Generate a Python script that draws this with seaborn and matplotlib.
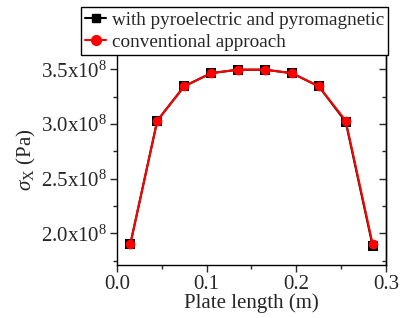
import numpy as np
import pandas as pd
import seaborn as sns
import matplotlib.pyplot as plt
from matplotlib.ticker import MultipleLocator, FuncFormatter

# plate positions (m) and stress values (Pa)
plate_length = [0.015, 0.045, 0.075, 0.105, 0.135, 0.165, 0.195, 0.225, 0.255, 0.285]
sigma_pyro = [1.90e8, 3.03e8, 3.345e8, 3.465e8, 3.497e8, 3.497e8, 3.465e8, 3.345e8, 3.02e8, 1.885e8]
sigma_conv = [1.90e8, 3.03e8, 3.345e8, 3.465e8, 3.497e8, 3.497e8, 3.465e8, 3.345e8, 3.03e8, 1.90e8]
labels = ['with pyroelectric and pyromagnetic', 'conventional approach']

sns.set_style('ticks')
plt.rcParams['font.family'] = ['Liberation Serif', 'DejaVu Serif']
plt.rcParams['mathtext.fontset'] = 'custom'
plt.rcParams['mathtext.rm'] = 'Liberation Serif'
plt.rcParams['mathtext.it'] = 'Liberation Serif:italic'

df = pd.DataFrame({'x': plate_length * 2,
                   'y': sigma_pyro + sigma_conv,
                   'series': [labels[0]] * len(plate_length) + [labels[1]] * len(plate_length)})

fig = plt.figure(figsize=(4.03, 3.18), dpi=100)
ax = fig.add_axes([0.290, 0.167, 0.668, 0.663])

sns.lineplot(data=df, x='x', y='y', hue='series', style='series',
             palette=['black', 'red'], markers=['s', 'o'], dashes=False,
             markersize=7, markeredgewidth=0, linewidth=1.5, ax=ax, legend=False)

ax.set_xlim(0, 0.3)
ax.set_ylim(1.71e8, 3.64e8)
ax.xaxis.set_major_locator(MultipleLocator(0.1))
ax.xaxis.set_minor_locator(MultipleLocator(0.05))
ax.yaxis.set_major_locator(MultipleLocator(0.5e8))
ax.yaxis.set_minor_locator(MultipleLocator(0.25e8))
ax.xaxis.set_major_formatter(FuncFormatter(lambda v, p: f'{v:.1f}'))
ax.yaxis.set_major_formatter(FuncFormatter(lambda v, p: f'{v/1e8:.1f}x10$^{{8}}$'))

ax.tick_params(axis='both', which='major', labelsize=15, length=5, width=1, pad=2)
ax.tick_params(axis='both', which='minor', length=3, width=1)
ax.tick_params(axis='x', which='both', top=False)
for s in ax.spines.values():
    s.set_linewidth(1)
    s.set_color('black')

# inward ticks on the right spine
sec = ax.secondary_yaxis('right')
sec.yaxis.set_major_locator(MultipleLocator(0.5e8))
sec.yaxis.set_minor_locator(MultipleLocator(0.25e8))
sec.tick_params(which='major', direction='in', length=5, width=1, labelright=False)
sec.tick_params(which='minor', direction='in', length=3, width=1)
sec.spines['right'].set_linewidth(1)

ax.set_xlabel('Plate length (m)', fontsize=15, labelpad=0)
ax.set_ylabel(r'$\sigma_{\mathrm{X}}$ (Pa)', fontsize=15, labelpad=2)

handles = [plt.Line2D([], [], color='black', marker='s', markersize=6, lw=1.5),
           plt.Line2D([], [], color='red', marker='o', markersize=7, lw=1.5)]
fig.legend(handles, labels, loc='lower right', bbox_to_anchor=(0.963, 0.828),
           fontsize=13.8, frameon=True, fancybox=False, edgecolor='black',
           handlelength=1.1, handletextpad=0.3, borderpad=0.2, borderaxespad=0,
           labelspacing=0.25, framealpha=1)

fig.savefig('out.png', dpi=100)
